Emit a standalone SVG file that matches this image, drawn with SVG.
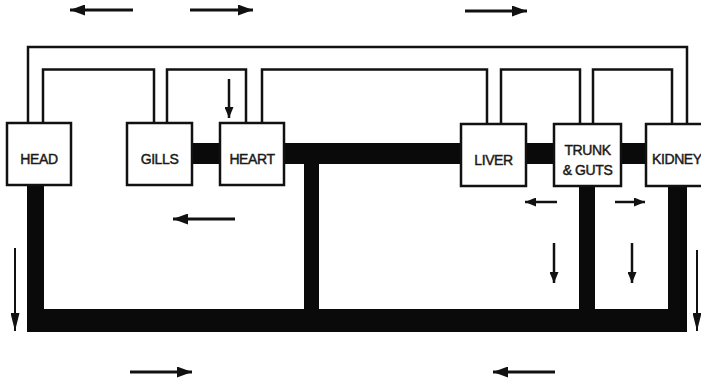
<svg xmlns="http://www.w3.org/2000/svg" width="701" height="381" viewBox="0 0 701 381">
<defs>
<style>
.thin{fill:none;stroke:#111;stroke-width:2.5;stroke-linejoin:miter}
.vessel{fill:#0a0a0a}
.box{fill:#fff;stroke:#111;stroke-width:2.5}
.lbl{font-family:"Liberation Sans",Arial,sans-serif;font-size:14px;fill:#1a1a1a;stroke:#1a1a1a;stroke-width:0.45;text-anchor:middle;letter-spacing:-0.4px}
.arr{fill:none;stroke:#111;stroke-width:2.8}
.arrs{fill:none;stroke:#111;stroke-width:2.5}
.arrl{fill:none;stroke:#111;stroke-width:2}
</style>
<marker id="head" markerUnits="userSpaceOnUse" markerWidth="15" markerHeight="11" refX="15" refY="5.5" orient="auto">
<path d="M0,0 L15,5.5 L0,11 z" fill="#111"/>
</marker>
<marker id="heads" markerUnits="userSpaceOnUse" markerWidth="11" markerHeight="9" refX="11" refY="4.5" orient="auto">
<path d="M0,0 L11,4.5 L0,9 z" fill="#111"/>
</marker>
<marker id="headl" markerUnits="userSpaceOnUse" markerWidth="18" markerHeight="9" refX="18" refY="4.5" orient="auto">
<path d="M0,0 L18,4.5 L0,9 z" fill="#111"/>
</marker>
</defs>
<rect width="701" height="381" fill="#fff"/>
<g id="connectors">
<path class="thin" d="M28,123 V47 H687 V124"/>
<path class="thin" d="M43,123 V69.5 H154 V123"/>
<path class="thin" d="M167,123 V69.5 H246 V123"/>
<path class="thin" d="M262,123 V69.5 H487 V124"/>
<path class="thin" d="M501,124 V69.5 H580 V124"/>
<path class="thin" d="M593,124 V69.5 H672 V124"/>
<rect class="vessel" x="190" y="143" width="32" height="21"/>
<rect class="vessel" x="282" y="143" width="366" height="21"/>
<rect class="vessel" x="304" y="150" width="15" height="170"/>
<rect class="vessel" x="27" y="183" width="17" height="149"/>
<rect class="vessel" x="27" y="309" width="660" height="23"/>
<rect class="vessel" x="579" y="184" width="16" height="136"/>
<rect class="vessel" x="668" y="184" width="19" height="148"/>
</g>
<g id="head-node"><rect class="box" x="7" y="123" width="64" height="62"/><text class="lbl" x="39" y="164">HEAD</text></g>
<g id="gills"><rect class="box" x="127" y="123" width="65" height="62"/><text class="lbl" x="159.5" y="164">GILLS</text></g>
<g id="heart"><rect class="box" x="220" y="123" width="64" height="62"/><text class="lbl" x="252" y="164">HEART</text></g>
<g id="liver"><rect class="box" x="461" y="124" width="65" height="62"/><text class="lbl" x="493.5" y="165">LIVER</text></g>
<g id="trunk"><rect class="box" x="554" y="124" width="67" height="62"/><text class="lbl" x="587.5" y="155">TRUNK</text><text class="lbl" x="587.5" y="175">&amp; GUTS</text></g>
<g id="kidney"><rect class="box" x="646" y="124" width="64" height="62"/><text class="lbl" x="652" y="164" style="text-anchor:start">KIDNEY</text></g>
<g id="flow-arrows">
<line class="arr" x1="133" y1="10" x2="70" y2="10" marker-end="url(#head)"/>
<line class="arr" x1="190" y1="10" x2="253" y2="10" marker-end="url(#head)"/>
<line class="arr" x1="465" y1="11" x2="527" y2="11" marker-end="url(#head)"/>
<line class="arrs" x1="229" y1="79" x2="229" y2="118" marker-end="url(#heads)"/>
<line class="arr" x1="235" y1="219" x2="173" y2="219" marker-end="url(#head)"/>
<line class="arrl" x1="15" y1="248" x2="15" y2="331" marker-end="url(#headl)"/>
<line class="arrs" x1="557" y1="202" x2="525" y2="202" marker-end="url(#heads)"/>
<line class="arrs" x1="615" y1="202" x2="645" y2="202" marker-end="url(#heads)"/>
<line class="arrs" x1="554" y1="243" x2="554" y2="283" marker-end="url(#heads)"/>
<line class="arrs" x1="632" y1="243" x2="632" y2="283" marker-end="url(#heads)"/>
<line class="arrl" x1="697" y1="250" x2="697" y2="331" marker-end="url(#headl)"/>
<line class="arr" x1="130" y1="372" x2="192" y2="372" marker-end="url(#head)"/>
<line class="arr" x1="555" y1="372" x2="493" y2="372" marker-end="url(#head)"/>
</g>
</svg>
